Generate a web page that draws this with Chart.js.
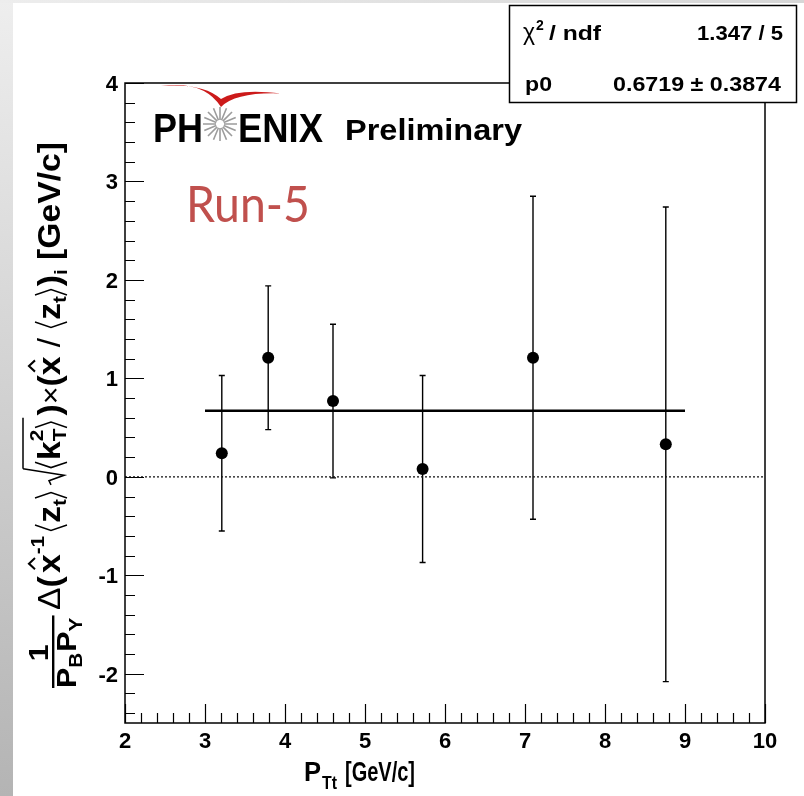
<!DOCTYPE html>
<html>
<head>
  <meta charset="utf-8" />
  <title>PHENIX Preliminary Run-5</title>
  <script src="https://cdn.jsdelivr.net/npm/chart.js@4.4.1/dist/chart.umd.min.js"></script>
  <style>
    html, body { margin: 0; padding: 0; background: #fff; }
    #wrap { position: relative; width: 804px; height: 796px; }
  </style>
</head>
<body>
  <div id="wrap"><canvas id="plot" width="804" height="796"></canvas></div>

  <script>
    // data
    const ptValues   = [3.21, 3.79, 4.60, 5.72, 7.10, 8.76];
    const asymValues = [0.24, 1.21, 0.77, 0.08, 1.21, 0.33];
    const asymErrors = [0.79, 0.73, 0.78, 0.95, 1.64, 2.41];

    // constant fit p0 over 3..9
    const fitRange = [3, 9];
    const fitP0 = 0.6719;

    const xTickLabels = ['2', '3', '4', '5', '6', '7', '8', '9', '10'];
    const yTickLabels = ['-2', '-1', '0', '1', '2', '3', '4'];

    const statsLeft  = ['ndf', 'p0'];
    const statsRight = ['1.347 / 5', '0.6719 \u00b1 0.3874'];

    const FAM = '"Liberation Sans", Arial, Helvetica, sans-serif';

    // draw text squeezed/stretched into a given width
    function fitText(ctx, str, x, y, font, width, align) {
      ctx.save();
      ctx.font = font;
      const w = ctx.measureText(str).width;
      const sx = width ? width / w : 1;
      ctx.translate(x, y);
      ctx.scale(sx, 1);
      ctx.textAlign = align || 'left';
      ctx.fillText(str, 0, 0);
      ctx.restore();
    }

    // rotated y title, laid out piece by piece
    function yTitleLayout(ctx, draw) {
      let u = 0;
      const M = 31, S = 19;
      const text = (s, size, dv, weight) => {
        ctx.font = (weight || 'bold') + ' ' + size + 'px ' + FAM;
        const w = ctx.measureText(s).width;
        if (draw) ctx.fillText(s, u, dv);
        u += w;
        return w;
      };
      const poly = (pts, lw) => {
        if (!draw) return;
        ctx.beginPath();
        pts.forEach((p, i) => i ? ctx.lineTo(p[0], p[1]) : ctx.moveTo(p[0], p[1]));
        ctx.lineWidth = lw;
        ctx.stroke();
      };
      const langle = () => { poly([[u + 6, -25], [u + 1, -9], [u + 6, 7]], 1.4); u += 8; };
      const rangle = () => { poly([[u + 1, -25], [u + 6, -9], [u + 1, 7]], 1.4); u += 9; };
      const hatX = () => {
        const s = u; const w = text('x', M, 0);
        poly([[s + w * 0.2, -25], [s + w * 0.5, -31], [s + w * 0.8, -25]], 2);
      };

      // 1 / (P_B P_Y)
      const f0 = u;
      text('P', 28, 16); text('B', S, 22); u += 1; text('P', 28, 16); text('Y', S, 22);
      const f1 = u;
      if (draw) {
        ctx.fillRect(f0, -8, f1 - f0 + 2, 2.4);
        ctx.font = 'bold 28px ' + FAM;
        const w1 = ctx.measureText('1').width;
        ctx.fillText('1', (f0 + f1) / 2 - w1 / 2, -12);
      }
      u += 7;
      text('\u0394', M, 0, 'normal'); text('(', M, 0);
      u += 3;
      hatX();
      text('-1', S, -16);
      u += 4;
      langle(); text('z', M, 0); text('t', S, 6); rangle();
      u += 4;
      // square root
      const r0 = u;
      poly([[r0, -9], [r0 + 4, -11], [r0 + 9, 4], [r0 + 15, -37]], 1.5);
      u += 15;
      langle(); text('k', M, 0);
      const ks = u; text('2', S, -17); const ke = u; u = ks; text('T', S, 6); u = Math.max(u, ke);
      rangle();
      poly([[r0 + 15, -37], [u + 1, -37]], 1.5);
      u += 3;
      text(')', M, 0); text('\u00d7', 28, 0, 'normal'); text('(', M, 0);
      hatX();
      text(' / ', M, 0, 'normal');
      langle(); text('z', M, 0); text('t', S, 6); rangle();
      text(')', M, 0); text('i', S, 7);
      text(' [GeV/c]', M, 0);
      return u;
    }

    const rootPlugin = {
      id: 'rootStyle',
      beforeDraw(chart) {
        const ctx = chart.ctx;
        ctx.save();
        ctx.fillStyle = '#ffffff';
        ctx.fillRect(0, 0, chart.width, chart.height);
        // grey frame of the slide
        const gl = ctx.createLinearGradient(0, 0, 0, chart.height);
        gl.addColorStop(0, '#eeeeee');
        gl.addColorStop(1, '#b4b4b4');
        ctx.fillStyle = gl;
        ctx.fillRect(0, 0, 13, chart.height);
        const gt = ctx.createLinearGradient(0, 0, chart.width, 0);
        gt.addColorStop(0, '#ededed');
        gt.addColorStop(1, '#d6d6d6');
        ctx.fillStyle = gt;
        ctx.fillRect(0, 0, chart.width, 3);
        ctx.restore();
      },
      beforeDatasetsDraw(chart) {
        const ctx = chart.ctx;
        const xs = chart.scales.x, ys = chart.scales.y;
        ctx.save();
        ctx.strokeStyle = '#000';
        ctx.lineWidth = 1.4;
        ptValues.forEach((x, i) => {
          const px = xs.getPixelForValue(x);
          const top = ys.getPixelForValue(asymValues[i] + asymErrors[i]);
          const bot = ys.getPixelForValue(asymValues[i] - asymErrors[i]);
          ctx.beginPath();
          ctx.moveTo(px, top); ctx.lineTo(px, bot);
          ctx.moveTo(px - 3, top); ctx.lineTo(px + 3, top);
          ctx.moveTo(px - 3, bot); ctx.lineTo(px + 3, bot);
          ctx.stroke();
        });
        ctx.restore();
      },
      afterDatasetsDraw(chart) {
        const ctx = chart.ctx;
        const a = chart.chartArea;
        const xs = chart.scales.x, ys = chart.scales.y;
        ctx.save();
        ctx.strokeStyle = '#000';
        ctx.fillStyle = '#000';
        ctx.lineWidth = 1.5;
        ctx.strokeRect(a.left, a.top, a.right - a.left, a.bottom - a.top);

        // inside ticks, ROOT style
        ctx.beginPath();
        for (let v = 2; v <= 10.001; v += 0.2) {
          const major = Math.abs(v - Math.round(v)) < 1e-6;
          const px = Math.round(xs.getPixelForValue(v)) + 0.5;
          ctx.moveTo(px, a.bottom);
          ctx.lineTo(px, a.bottom - (major ? 19 : 10));
        }
        for (let v = -2.4; v <= 4.001; v += 0.2) {
          const major = Math.abs(v - Math.round(v)) < 1e-6;
          const py = Math.round(ys.getPixelForValue(v)) + 0.5;
          ctx.moveTo(a.left, py);
          ctx.lineTo(a.left + (major ? 19 : 10), py);
        }
        ctx.lineWidth = 1.2;
        ctx.stroke();

        // tick labels
        ctx.font = 'bold 22px ' + FAM;
        ctx.textBaseline = 'alphabetic';
        xTickLabels.forEach(t => {
          ctx.textAlign = 'center';
          ctx.fillText(t, xs.getPixelForValue(Number(t)), a.bottom + 25);
        });
        yTickLabels.forEach(t => {
          ctx.textAlign = 'right';
          ctx.fillText(t, a.left - 7, ys.getPixelForValue(Number(t)) + 8);
        });

        // x title
        ctx.textAlign = 'left';
        fitText(ctx, 'P', 304, 781, 'bold 27px ' + FAM, 17);
        fitText(ctx, 'Tt', 322, 789, 'bold 18px ' + FAM, 15);
        fitText(ctx, '[GeV/c]', 345, 781, 'bold 27px ' + FAM, 70);

        // y title
        ctx.save();
        const L = yTitleLayout(ctx, false);
        const k = 546 / L;
        ctx.translate(60, 688);
        ctx.rotate(-Math.PI / 2);
        ctx.scale(k, 1);
        ctx.textAlign = 'left';
        yTitleLayout(ctx, true);
        ctx.restore();

        // PHENIX logo
        ctx.fillStyle = '#cc1a1a';
        ctx.beginPath();
        ctx.moveTo(161, 86);
        ctx.quadraticCurveTo(204, 80, 221, 107);
        ctx.quadraticCurveTo(236, 92, 281, 93.5);
        ctx.quadraticCurveTo(238, 88, 221, 99);
        ctx.quadraticCurveTo(203, 82.5, 161, 86);
        ctx.closePath();
        ctx.fill();

        ctx.fillStyle = '#000';
        fitText(ctx, 'PH', 153, 142, 'bold 40px ' + FAM, 50);
        fitText(ctx, 'ENIX', 238, 142, 'bold 40px ' + FAM, 85);
        ctx.strokeStyle = '#9c9c9c';
        ctx.lineWidth = 1.6;
        ctx.beginPath();
        for (let i = 0; i < 16; i++) {
          const ang = i * Math.PI / 8;
          ctx.moveTo(220 + 4 * Math.cos(ang), 124 + 4 * Math.sin(ang));
          ctx.lineTo(220 + 17 * Math.cos(ang), 124 + 17 * Math.sin(ang));
        }
        ctx.stroke();
        fitText(ctx, 'Preliminary', 345, 140, 'bold 29px ' + FAM, 177);

        ctx.fillStyle = '#c0504d';
        fitText(ctx, 'Run-5', 186, 222, 'normal 51px Lato, "Open Sans", sans-serif', 124);
        ctx.restore();
      },
      afterDraw(chart) {
        const ctx = chart.ctx;
        ctx.save();
        // stats box
        ctx.fillStyle = '#fff';
        ctx.fillRect(509, 5, 288, 98);
        ctx.strokeStyle = '#000';
        ctx.lineWidth = 1.5;
        ctx.strokeRect(509.5, 5.5, 287, 97);
        ctx.fillStyle = '#000';
        // chi2 symbol
        ctx.font = 'normal 23px ' + FAM;
        ctx.fillText('\u03c7', 523, 40);
        fitText(ctx, '2', 536, 30, 'bold 14px ' + FAM, 0);
        fitText(ctx, '/ ' + statsLeft[0], 549, 40, 'bold 20px ' + FAM, 52);
        fitText(ctx, statsLeft[1], 525, 91, 'bold 20px ' + FAM, 27);
        fitText(ctx, statsRight[0], 783, 40, 'bold 20px ' + FAM, 86, 'right');
        fitText(ctx, statsRight[1], 781, 91, 'bold 20px ' + FAM, 168, 'right');
        ctx.restore();
      }
    };

    const ctx = document.getElementById('plot').getContext('2d');
    new Chart(ctx, {
      type: 'scatter',
      data: {
        datasets: [
          {
            label: 'zero',
            type: 'line',
            data: [{ x: 2, y: 0 }, { x: 10, y: 0 }],
            borderColor: '#111',
            borderWidth: 1.3,
            borderDash: [2, 2],
            pointRadius: 0
          },
          {
            label: 'fit p0',
            type: 'line',
            data: fitRange.map(x => ({ x: x, y: fitP0 })),
            borderColor: '#000',
            borderWidth: 2.6,
            pointRadius: 0
          },
          {
            label: 'data',
            data: ptValues.map((x, i) => ({ x: x, y: asymValues[i] })),
            pointRadius: 6,
            backgroundColor: '#000',
            borderWidth: 0
          }
        ]
      },
      options: {
        responsive: false,
        animation: false,
        devicePixelRatio: 1,
        layout: { padding: { left: 125, top: 83, right: 39, bottom: 73 } },
        plugins: { legend: { display: false }, tooltip: { enabled: false } },
        scales: {
          x: { type: 'linear', min: 2, max: 10, display: false },
          y: { type: 'linear', min: -2.5, max: 4, display: false }
        }
      },
      plugins: [rootPlugin]
    });
  </script>
</body>
</html>
